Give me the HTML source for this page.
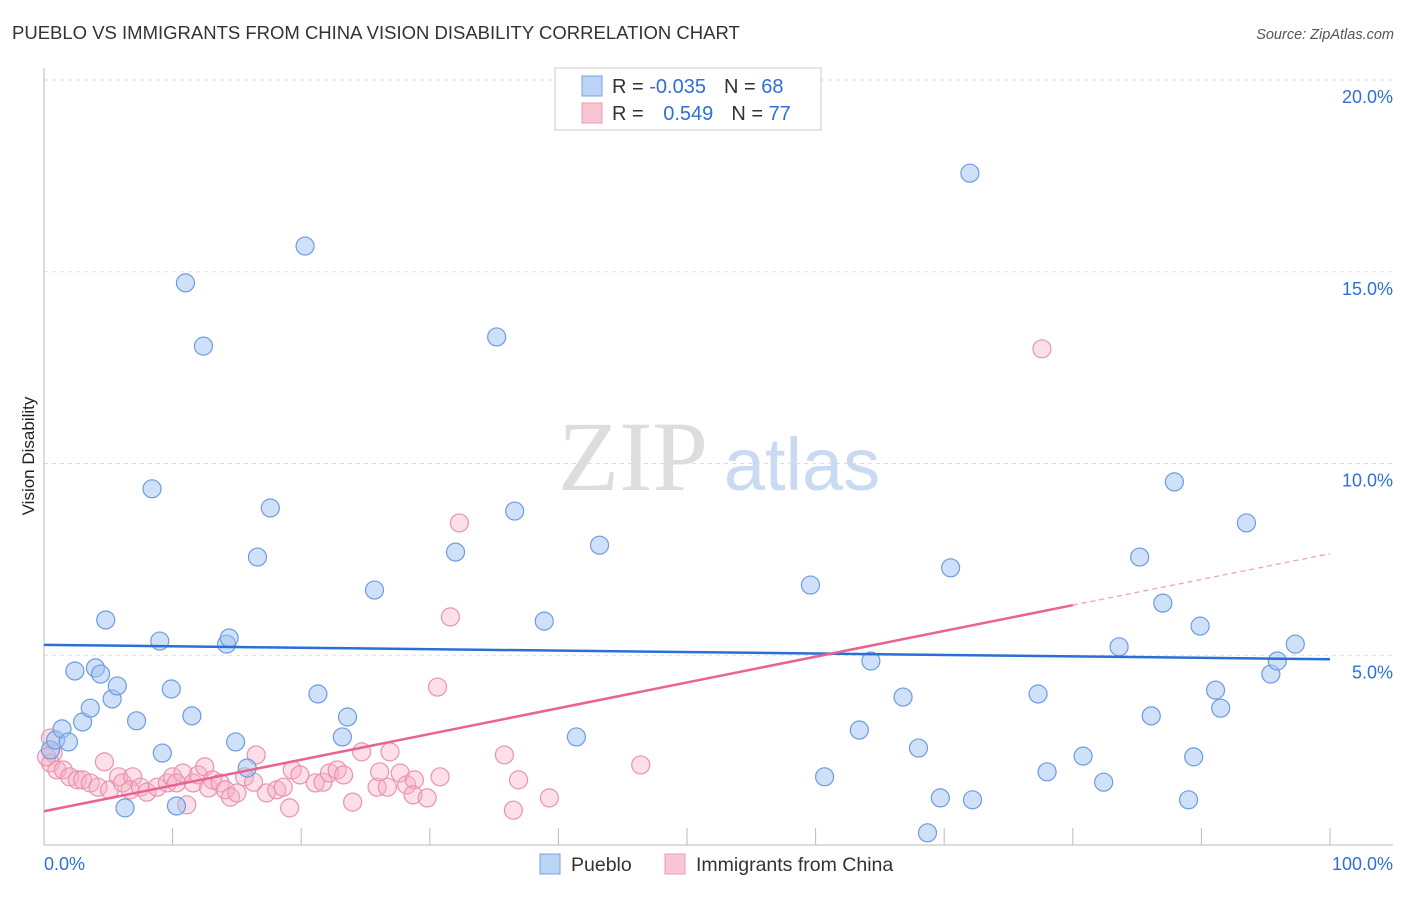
<!DOCTYPE html>
<html><head><meta charset="utf-8"><style>
body{margin:0;background:#fff;font-family:"Liberation Sans",sans-serif;}
</style></head><body>
<svg width="1406" height="892" xmlns="http://www.w3.org/2000/svg">
<text x="12" y="39" font-size="18.5" fill="#333">PUEBLO VS IMMIGRANTS FROM CHINA VISION DISABILITY CORRELATION CHART</text>
<text x="1394" y="39" font-size="14.5" fill="#555" font-style="italic" text-anchor="end">Source: ZipAtlas.com</text>
<text x="0" y="0" transform="translate(34,456) rotate(-90)" font-size="17" fill="#222" text-anchor="middle">Vision Disability</text>
<g>
<text x="633" y="490" font-family="Liberation Serif,serif" font-size="100" fill="#ddd" text-anchor="middle">ZIP</text>
<text x="802" y="490" font-size="74" fill="#c9daf2" text-anchor="middle">atlas</text>
</g>
<g id="grid"></g>
<g id="marks"></g>
<g>
<rect x="555" y="68" width="266" height="62" fill="#fff" stroke="#ccc"/>
<rect x="582" y="76" width="20" height="20" fill="#bcd4f6" stroke="#7aa3e0"/>
<rect x="582" y="103" width="20" height="20" fill="#f9c6d4" stroke="#eb9ab3"/>
<text x="612" y="93" font-size="20" fill="#333">R = <tspan fill="#2f6fd8">-0.035</tspan><tspan dx="18">N = </tspan><tspan fill="#2f6fd8">68</tspan></text>
<text x="612" y="120" font-size="20" fill="#333">R = <tspan dx="14" fill="#2f6fd8">0.549</tspan><tspan dx="18">N = </tspan><tspan fill="#2f6fd8">77</tspan></text>
</g>
<g>
<rect x="540" y="854" width="20" height="20" fill="#bcd4f6" stroke="#7aa3e0"/>
<text x="571" y="871" font-size="19.5" fill="#333">Pueblo</text>
<rect x="665" y="854" width="20" height="20" fill="#f9c6d4" stroke="#eb9ab3"/>
<text x="696" y="871" font-size="19.5" fill="#333">Immigrants from China</text>
</g>
<text x="44" y="870" font-size="18" fill="#2f6fd8">0.0%</text>
<text x="1393" y="870" font-size="18" fill="#2f6fd8" text-anchor="end">100.0%</text>
</svg>
<script>
const yTicks=[5,10,15,20];
const yTickLabels=["5.0%","10.0%","15.0%","20.0%"];
const xTicks=[0,10,20,30,40,50,60,70,80,90,100];
const puebloX=[0.5,0.9,1.4,1.9,2.4,3.0,3.6,4.0,4.4,4.8,5.3,5.7,6.3,7.2,8.4,9.0,9.2,9.9,10.3,11.0,11.5,12.4,14.2,14.4,14.9,15.8,16.6,17.6,20.3,21.3,23.2,23.6,25.7,32.0,35.2,36.6,38.9,41.4,43.2,59.6,60.7,63.4,64.3,66.8,68.0,68.7,69.7,70.5,72.0,72.2,77.3,78.0,80.8,82.4,83.6,85.2,86.1,87.0,87.9,89.0,89.4,89.9,91.1,91.5,93.5,95.4,95.9,97.3];
const puebloY=[2.53,2.79,3.08,2.74,4.59,3.26,3.62,4.67,4.51,5.92,3.86,4.20,1.02,3.29,9.34,5.37,2.45,4.12,1.07,14.71,3.42,13.06,5.29,5.45,2.74,2.06,7.56,8.84,15.67,3.99,2.87,3.39,6.70,7.69,13.30,8.76,5.89,2.87,7.87,6.83,1.83,3.05,4.85,3.91,2.58,0.37,1.28,7.28,17.57,1.23,3.99,1.96,2.37,1.69,5.22,7.56,3.42,6.36,9.52,1.23,2.35,5.76,4.09,3.62,8.45,4.51,4.85,5.29];
const chinaX=[0.7,0.5,1.0,1.5,2.0,2.6,3.0,3.6,4.2,4.7,5.1,5.8,6.1,6.9,6.7,7.5,8.0,8.8,9.6,10.0,10.8,10.3,11.1,11.6,12.0,12.5,12.8,13.1,13.7,14.1,14.5,15.0,15.6,16.3,16.5,17.3,18.1,18.6,19.1,19.3,19.9,21.1,21.7,22.2,22.8,23.3,24.0,24.7,25.9,26.1,26.7,26.9,27.7,28.2,28.8,28.7,29.8,30.8,30.6,31.6,32.3,35.8,36.5,36.9,39.3,46.4,77.6,0.2,0.5];
const chinaY=[2.45,2.19,2.01,2.01,1.83,1.75,1.75,1.67,1.56,2.22,1.49,1.83,1.67,1.83,1.49,1.56,1.43,1.56,1.67,1.83,1.93,1.67,1.10,1.67,1.88,2.09,1.54,1.75,1.67,1.49,1.30,1.41,1.83,1.69,2.40,1.41,1.49,1.56,1.02,2.01,1.88,1.67,1.69,1.93,2.01,1.88,1.17,2.48,1.56,1.96,1.56,2.48,1.93,1.62,1.75,1.36,1.28,1.83,4.17,6.00,8.45,2.40,0.96,1.75,1.28,2.14,12.99,2.35,2.84];
const NS="http://www.w3.org/2000/svg";
const X0=44,X1=1330,Y0=847,YS=38.35;
const sx=v=>X0+v*(X1-X0)/100, sy=v=>Y0-v*YS;
function mk(tag,attrs,parent){const e=document.createElementNS(NS,tag);for(const k in attrs)e.setAttribute(k,attrs[k]);parent.appendChild(e);return e;}
const grid=document.getElementById('grid'),marks=document.getElementById('marks');
yTicks.forEach((t,i)=>{
  const l=mk('line',{x1:X0,x2:1393,y1:sy(t),y2:sy(t),stroke:'#ddd','stroke-dasharray':'4,4'},grid);
  
  
  const tx=mk('text',{x:1393,y:sy(t)+23,'font-size':18,fill:'#2f6fd8','text-anchor':'end'},grid);
  tx.textContent=yTickLabels[i];
  
  
});
const ax=mk('line',{x1:X0,x2:X0,y1:68,y2:845,stroke:'#bbb'},grid);


const bx=mk('line',{x1:X0,x2:1393,y1:845,y2:845,stroke:'#bbb'},grid);


xTicks.forEach(t=>{
  const l=mk('line',{x1:sx(t),x2:sx(t),y1:828,y2:845,stroke:'#bbb'},grid);
  
  
});
function fit(xs,ys){const n=xs.length;let mx=0,my=0;for(let i=0;i<n;i++){mx+=xs[i];my+=ys[i];}mx/=n;my/=n;let a=0,b=0;for(let i=0;i<n;i++){a+=(xs[i]-mx)*(ys[i]-my);b+=(xs[i]-mx)**2;}const m=a/b;return [m,my-m*mx];}
function dots(xs,ys,fill,stroke,name){xs.forEach((x,i)=>{const c=mk('circle',{cx:sx(x),cy:sy(ys[i]),r:9,fill:fill,stroke:stroke,'stroke-width':1.2},marks);
  
  });}
dots(chinaX,chinaY,'rgba(248,175,198,0.4)','#e993ad','china-point');
dots(puebloX,puebloY,'rgba(160,195,242,0.5)','#6d9be0','pueblo-point');
const [pm,pb]=fit(puebloX,puebloY);
const pl=mk('line',{x1:sx(0),y1:sy(pb),x2:sx(100),y2:sy(pb+pm*100),stroke:'#2a6fd6','stroke-width':2.5},marks);


const [cm,cb]=fit(chinaX,chinaY);
const cl=mk('line',{x1:sx(0),y1:sy(cb),x2:sx(80),y2:sy(cb+cm*80),stroke:'#e8648f','stroke-width':2.5},marks);


const cd=mk('line',{x1:sx(80),y1:sy(cb+cm*80),x2:sx(100),y2:sy(cb+cm*100),stroke:'#f0a0b8','stroke-width':1.3,'stroke-dasharray':'5,4'},marks);


</script>
</body></html>
